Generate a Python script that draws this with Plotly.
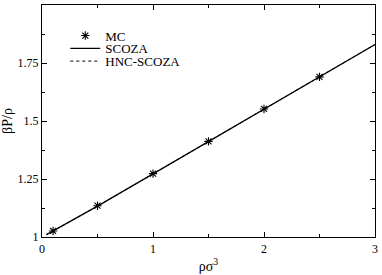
import plotly.graph_objects as go

mc_x = [0.1, 0.5, 1.0, 1.5, 2.0, 2.5]
mc_y = [1.026, 1.135, 1.273, 1.412, 1.552, 1.690]

line_x = [0.04, 0.5, 1.0, 1.5, 2.0, 2.5, 3.0]
scoza_y = [1.010, 1.133, 1.272, 1.411, 1.551, 1.690, 1.830]
hnc_y = [1.010, 1.133, 1.272, 1.411, 1.551, 1.690, 1.830]

font = "Liberation Serif"

fig = go.Figure()
fig.add_trace(go.Scatter(x=mc_x, y=mc_y, mode="markers", name="MC", legend="legend",
                         marker=dict(symbol="asterisk-open", size=7, color="black",
                                     line=dict(color="black", width=1.1))))
fig.add_trace(go.Scatter(x=line_x, y=scoza_y, mode="lines", name="SCOZA", legend="legend2",
                         line=dict(color="black", width=1.3)))
fig.add_trace(go.Scatter(x=line_x, y=hnc_y, mode="lines", name="HNC-SCOZA", legend="legend3",
                         line=dict(color="black", width=1, dash="dot")))

tick_common = dict(showgrid=False, zeroline=False, showline=True, linecolor="black",
                   linewidth=1.3, mirror="ticks", ticks="inside", ticklen=5,
                   tickwidth=1, tickcolor="black",
                   tickfont=dict(family=font, size=12, color="black"))

leg_common = dict(xanchor="left", yanchor="middle", bgcolor="rgba(0,0,0,0)",
                  borderwidth=0, font=dict(family=font, size=13, color="black"))

fig.update_layout(
    width=382, height=275,
    margin=dict(l=42, r=4, t=4, b=36),
    paper_bgcolor="white", plot_bgcolor="white",
    font=dict(family=font, color="black"),
    showlegend=True,
    legend=dict(x=0.07, y=0.868, **leg_common),
    legend2=dict(x=0.07, y=0.813, **leg_common),
    legend3=dict(x=0.07, y=0.758, **leg_common),
    xaxis=dict(range=[0, 3], tickvals=[0, 1, 2, 3], ticktext=["0", "1", "2", "3"],
               minor=dict(ticks="inside", ticklen=3, tickwidth=1, tickcolor="black",
                          tickvals=[0.5, 1.5, 2.5]),
               title=dict(text="ρσ<sup>3</sup>", font=dict(family=font, size=14), standoff=6),
               **tick_common),
    yaxis=dict(range=[1, 2], tickvals=[1, 1.25, 1.5, 1.75, 2],
               ticktext=["1", "1.25", "1.5", "1.75", "2"],
               minor=dict(ticks="inside", ticklen=3, tickwidth=1, tickcolor="black",
                          tickvals=[1.125, 1.375, 1.625, 1.875]),
               title=dict(text="βP/ρ", font=dict(family=font, size=14), standoff=2),
               **tick_common),
)

fig.write_html("out.html", config={"displayModeBar": False},
               post_script="document.body.style.margin='0';")
